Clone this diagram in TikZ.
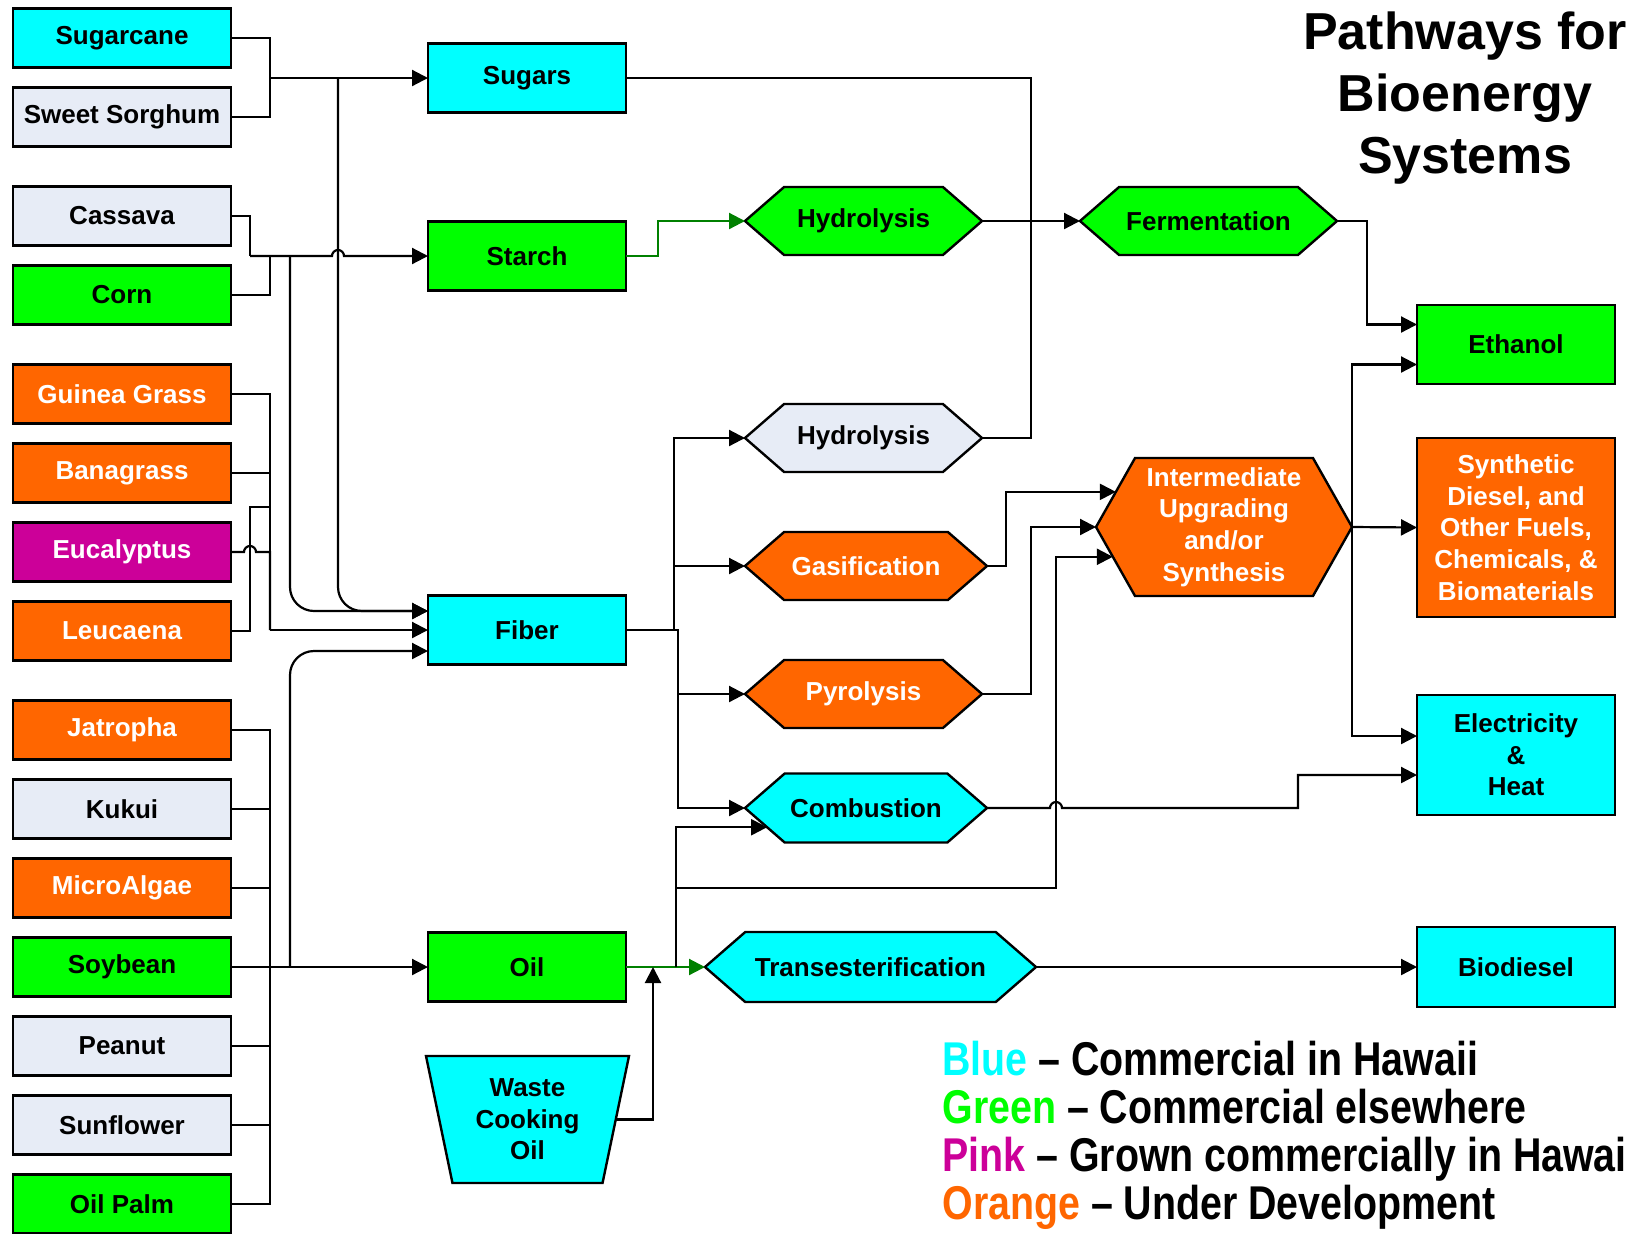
\documentclass[tikz,border=0pt]{standalone}
\usepackage{fontspec}
\setmainfont{Liberation Sans}
\newfontfamily\legendfont[FakeStretch=0.83]{Liberation Sans}
\usepackage{xcolor}
\usetikzlibrary{shapes.geometric, shapes.symbols, arrows.meta, positioning, calc}

\definecolor{bioCyan}{RGB}{0,255,255}
\definecolor{bioGreen}{RGB}{0,255,0}
\definecolor{bioGrey}{RGB}{231,236,246}
\definecolor{bioOrange}{RGB}{255,102,0}
\definecolor{bioPink}{RGB}{204,0,153}
\definecolor{darkGreen}{RGB}{0,128,0}

\newcommand{\boxfont}{\bfseries\fontsize{13}{15.8}\selectfont}

\tikzstyle{crop} = [rectangle, minimum width=109pt, minimum height=29.5pt, text centered, draw=black, line width=1.2pt, inner sep=0pt, outer sep=0pt, font=\boxfont]
\tikzstyle{feed} = [crop, minimum width=99pt, minimum height=34.5pt]
\tikzstyle{product} = [crop, minimum width=99pt, align=center]
\tikzstyle{conv} = [signal, signal to=west and east, signal pointer angle=82, minimum height=34pt, draw=black, line width=1.2pt, inner sep=0pt, outer sep=0pt, font=\boxfont, align=center]
\tikzstyle{hawaii} = [fill=bioCyan]
\tikzstyle{elsewhere} = [fill=bioGreen]
\tikzstyle{grownhi} = [fill=bioPink, text=white]
\tikzstyle{devel} = [fill=bioOrange, text=white]
\tikzstyle{notcomm} = [fill=bioGrey]
\tikzstyle{link} = [line width=1.1pt]
\tikzstyle{arrow} = [line width=1.1pt, -{Triangle[length=8pt,width=8pt]}]
\tikzstyle{garrow} = [arrow, draw=darkGreen]
\tikzstyle{heading} = [font=\bfseries\fontsize{26}{31}\selectfont, anchor=base, inner sep=0pt]
\tikzstyle{legendline} = [font=\legendfont\bfseries\fontsize{23.7}{28}\selectfont, anchor=base west, inner sep=0pt]

\begin{document}
\begin{tikzpicture}[x=0.5pt, y=-0.5pt, node distance=39.5pt]
\useasboundingbox (0,0) rectangle (1627,1233);

% Colture
\node (sugarcane) [crop, hawaii] at (122,38) {Sugarcane};
\node (sorghum) [crop, notcomm, below of=sugarcane] {Sweet Sorghum};
\node (cassava) [crop, notcomm, below of=sorghum, yshift=-10pt] {Cassava};
\node (corn) [crop, elsewhere, below of=cassava] {Corn};
\node (guinea) [crop, devel, below of=corn, yshift=-10pt] {Guinea Grass};
\node (banagrass) [crop, devel, below of=guinea] {Banagrass};
\node (eucalyptus) [crop, grownhi, below of=banagrass] {Eucalyptus};
\node (leucaena) [crop, devel, below of=eucalyptus] {Leucaena};
\node (jatropha) [crop, devel, below of=leucaena, yshift=-10pt] {Jatropha};
\node (kukui) [crop, notcomm, below of=jatropha] {Kukui};
\node (microalgae) [crop, devel, below of=kukui] {MicroAlgae};
\node (soybean) [crop, elsewhere, below of=microalgae] {Soybean};
\node (peanut) [crop, notcomm, below of=soybean] {Peanut};
\node (sunflower) [crop, notcomm, below of=peanut] {Sunflower};
\node (oilpalm) [crop, elsewhere, below of=sunflower] {Oil Palm};

% Materie prime
\node (sugars) [feed, hawaii] at (527,78) {Sugars};
\node (starch) [feed, elsewhere] at (527,256) {Starch};
\node (fiber) [feed, hawaii] at (527,630) {Fiber};
\node (oil) [feed, elsewhere] at (527,967) {Oil};
\node (wco) [crop, hawaii, trapezium, trapezium angle=73.5, shape border rotate=180, trapezium stretches body, minimum width=101.5pt, minimum height=63.5pt, inner sep=2pt, align=center] at (527.5,1119.5) {Waste\\Cooking\\Oil};

% Processi
\node (hyda) [conv, elsewhere, minimum width=118.5pt] at (863.5,221) {Hydrolysis};
\node (ferm) [conv, elsewhere, minimum width=128.5pt] at (1208.5,221) {Fermentation};
\node (hydb) [conv, notcomm, minimum width=118.5pt] at (863.5,438) {Hydrolysis};
\node (gasif) [conv, devel, minimum width=121pt] at (866,566) {Gasification};
\node (pyro) [conv, devel, minimum width=118.5pt] at (863.5,694) {Pyrolysis};
\node (comb) [conv, hawaii, minimum width=121pt, minimum height=34.5pt] at (866,808) {Combustion};
\node (trans) [conv, hawaii, minimum width=165.5pt, minimum height=35pt] at (870.5,967) {Transesterification};
\node (inter) [conv, devel, minimum width=128pt, minimum height=69pt, signal pointer angle=121] at (1224,527) {Intermediate\\Upgrading\\and/or\\Synthesis};

% Prodotti
\node (ethanol) [product, elsewhere, minimum height=39.5pt] at (1516,344.5) {Ethanol};
\node (synth) [product, devel, minimum height=89.5pt] at (1516,527.5) {Synthetic\\Diesel, and\\Other Fuels,\\Chemicals, \&\\Biomaterials};
\node (elec) [product, hawaii, minimum height=60pt] at (1516,755) {Electricity\\\&\\Heat};
\node (biodiesel) [product, hawaii, minimum height=40pt] at (1516,967) {Biodiesel};

% Punti di giunzione
\coordinate (jsug) at (270,78);
\coordinate (jcas) at (250,256);
\coordinate (jcorn) at (270,256);
\coordinate (tsug) at (338,78);
\coordinate (tsta) at (290,256);
\coordinate (jfib) at (270,630);
\coordinate (jleu) at (250,507);
\coordinate (joil) at (270,967);
\coordinate (toil) at (290,967);
\coordinate (jfer) at (1031,221);
\coordinate (jwco) at (653,967);
\coordinate (jcmb) at (676,967);
\coordinate (kink) at (1056,888);
\coordinate (cstep) at (1298,808);

% Connessioni colture
\draw [link] (sugarcane.east) -| (jsug);
\draw [link] (sorghum.east) -| (jsug);
\draw [arrow] (jsug) -- (sugars.west);
\draw [link] (cassava.east) -| (jcas);
\draw [link] (corn.east) -| (jcorn);
\draw [arrow] (jcas) -- (332,256) arc[start angle=180, end angle=0, radius=3pt] -- (starch.west);
\draw [arrow, rounded corners=12pt] (tsug) |- ([yshift=9.5pt]fiber.west);
\draw [arrow, rounded corners=12pt] (tsta) |- ([yshift=9.5pt]fiber.west);
\draw [link] (guinea.east) -| (jfib);
\draw [link] (banagrass.east) -| (jfib);
\draw [link] (eucalyptus.east) -- ++(13,0) arc[start angle=180, end angle=0, radius=3pt] -| (jfib);
\draw [link] (leucaena.east) -| (jleu) -- (jleu -| jfib);
\draw [arrow] (jfib) -- (fiber.west);
\foreach \crop in {jatropha,kukui,microalgae,peanut,sunflower,oilpalm}
  \draw [link] (\crop.east) -| (joil);
\draw [arrow] (soybean.east) -- (oil.west);
\draw [arrow, rounded corners=12pt] (toil) |- ([yshift=-10.5pt]fiber.west);

% Connessioni processi
\draw [link] (sugars.east) -| (jfer);
\draw [link] (hydb.east) -| (jfer);
\draw [arrow] (hyda.east) -- (ferm.west);
\draw [garrow] (starch.east) -- ++(32,0) |- (hyda.west);
\draw [arrow] (fiber.east) -- ++(48,0) |- (hydb.west);
\draw [arrow] (fiber.east) -- ++(48,0) |- (gasif.west);
\draw [arrow] (fiber.east) -- ++(52,0) |- (pyro.west);
\draw [arrow] (fiber.east) -- ++(52,0) |- (comb.west);
\draw [arrow] (gasif.east) -- ++(19,0) |- (inter.162);
\draw [arrow] (pyro.east) -- ++(49,0) |- (inter.west);
\draw [garrow] (oil.east) -- (trans.west);
\draw [arrow] (wco.east) -| (jwco);
\draw [arrow] (jcmb) |- (comb.191);
\draw [arrow] (jcmb) |- (kink) |- (inter.195);

% Connessioni prodotti
\draw [arrow] (ferm.east) -- ++(30,0) |- ([yshift=10pt]ethanol.west);
\draw [arrow] (inter.east) -- (synth.west);
\draw [arrow] (inter.east) |- ([yshift=-10pt]ethanol.west);
\draw [arrow] (inter.east) |- ([yshift=9.5pt]elec.west);
\draw [arrow] (comb.east) -- (1050,808) arc[start angle=180, end angle=0, radius=3pt] -- (cstep) |- ([yshift=-10pt]elec.west);
\draw [arrow] (trans.east) -- (biodiesel.west);

% Titolo e legenda
\node (title1) [heading] at (1465,49) {Pathways for};
\node (title2) [heading] at (1465,111) {Bioenergy};
\node (title3) [heading] at (1465,173) {Systems};
\node (leg1) [legendline] at (942,1075) {\textcolor{bioCyan}{Blue} – Commercial in Hawaii};
\node (leg2) [legendline] at (942,1123) {\textcolor{bioGreen}{Green} – Commercial elsewhere};
\node (leg3) [legendline] at (942,1171) {\textcolor{bioPink}{Pink} – Grown commercially in Hawaii};
\node (leg4) [legendline] at (942,1219) {\textcolor{bioOrange}{Orange} – Under Development};

\end{tikzpicture}
\end{document}
